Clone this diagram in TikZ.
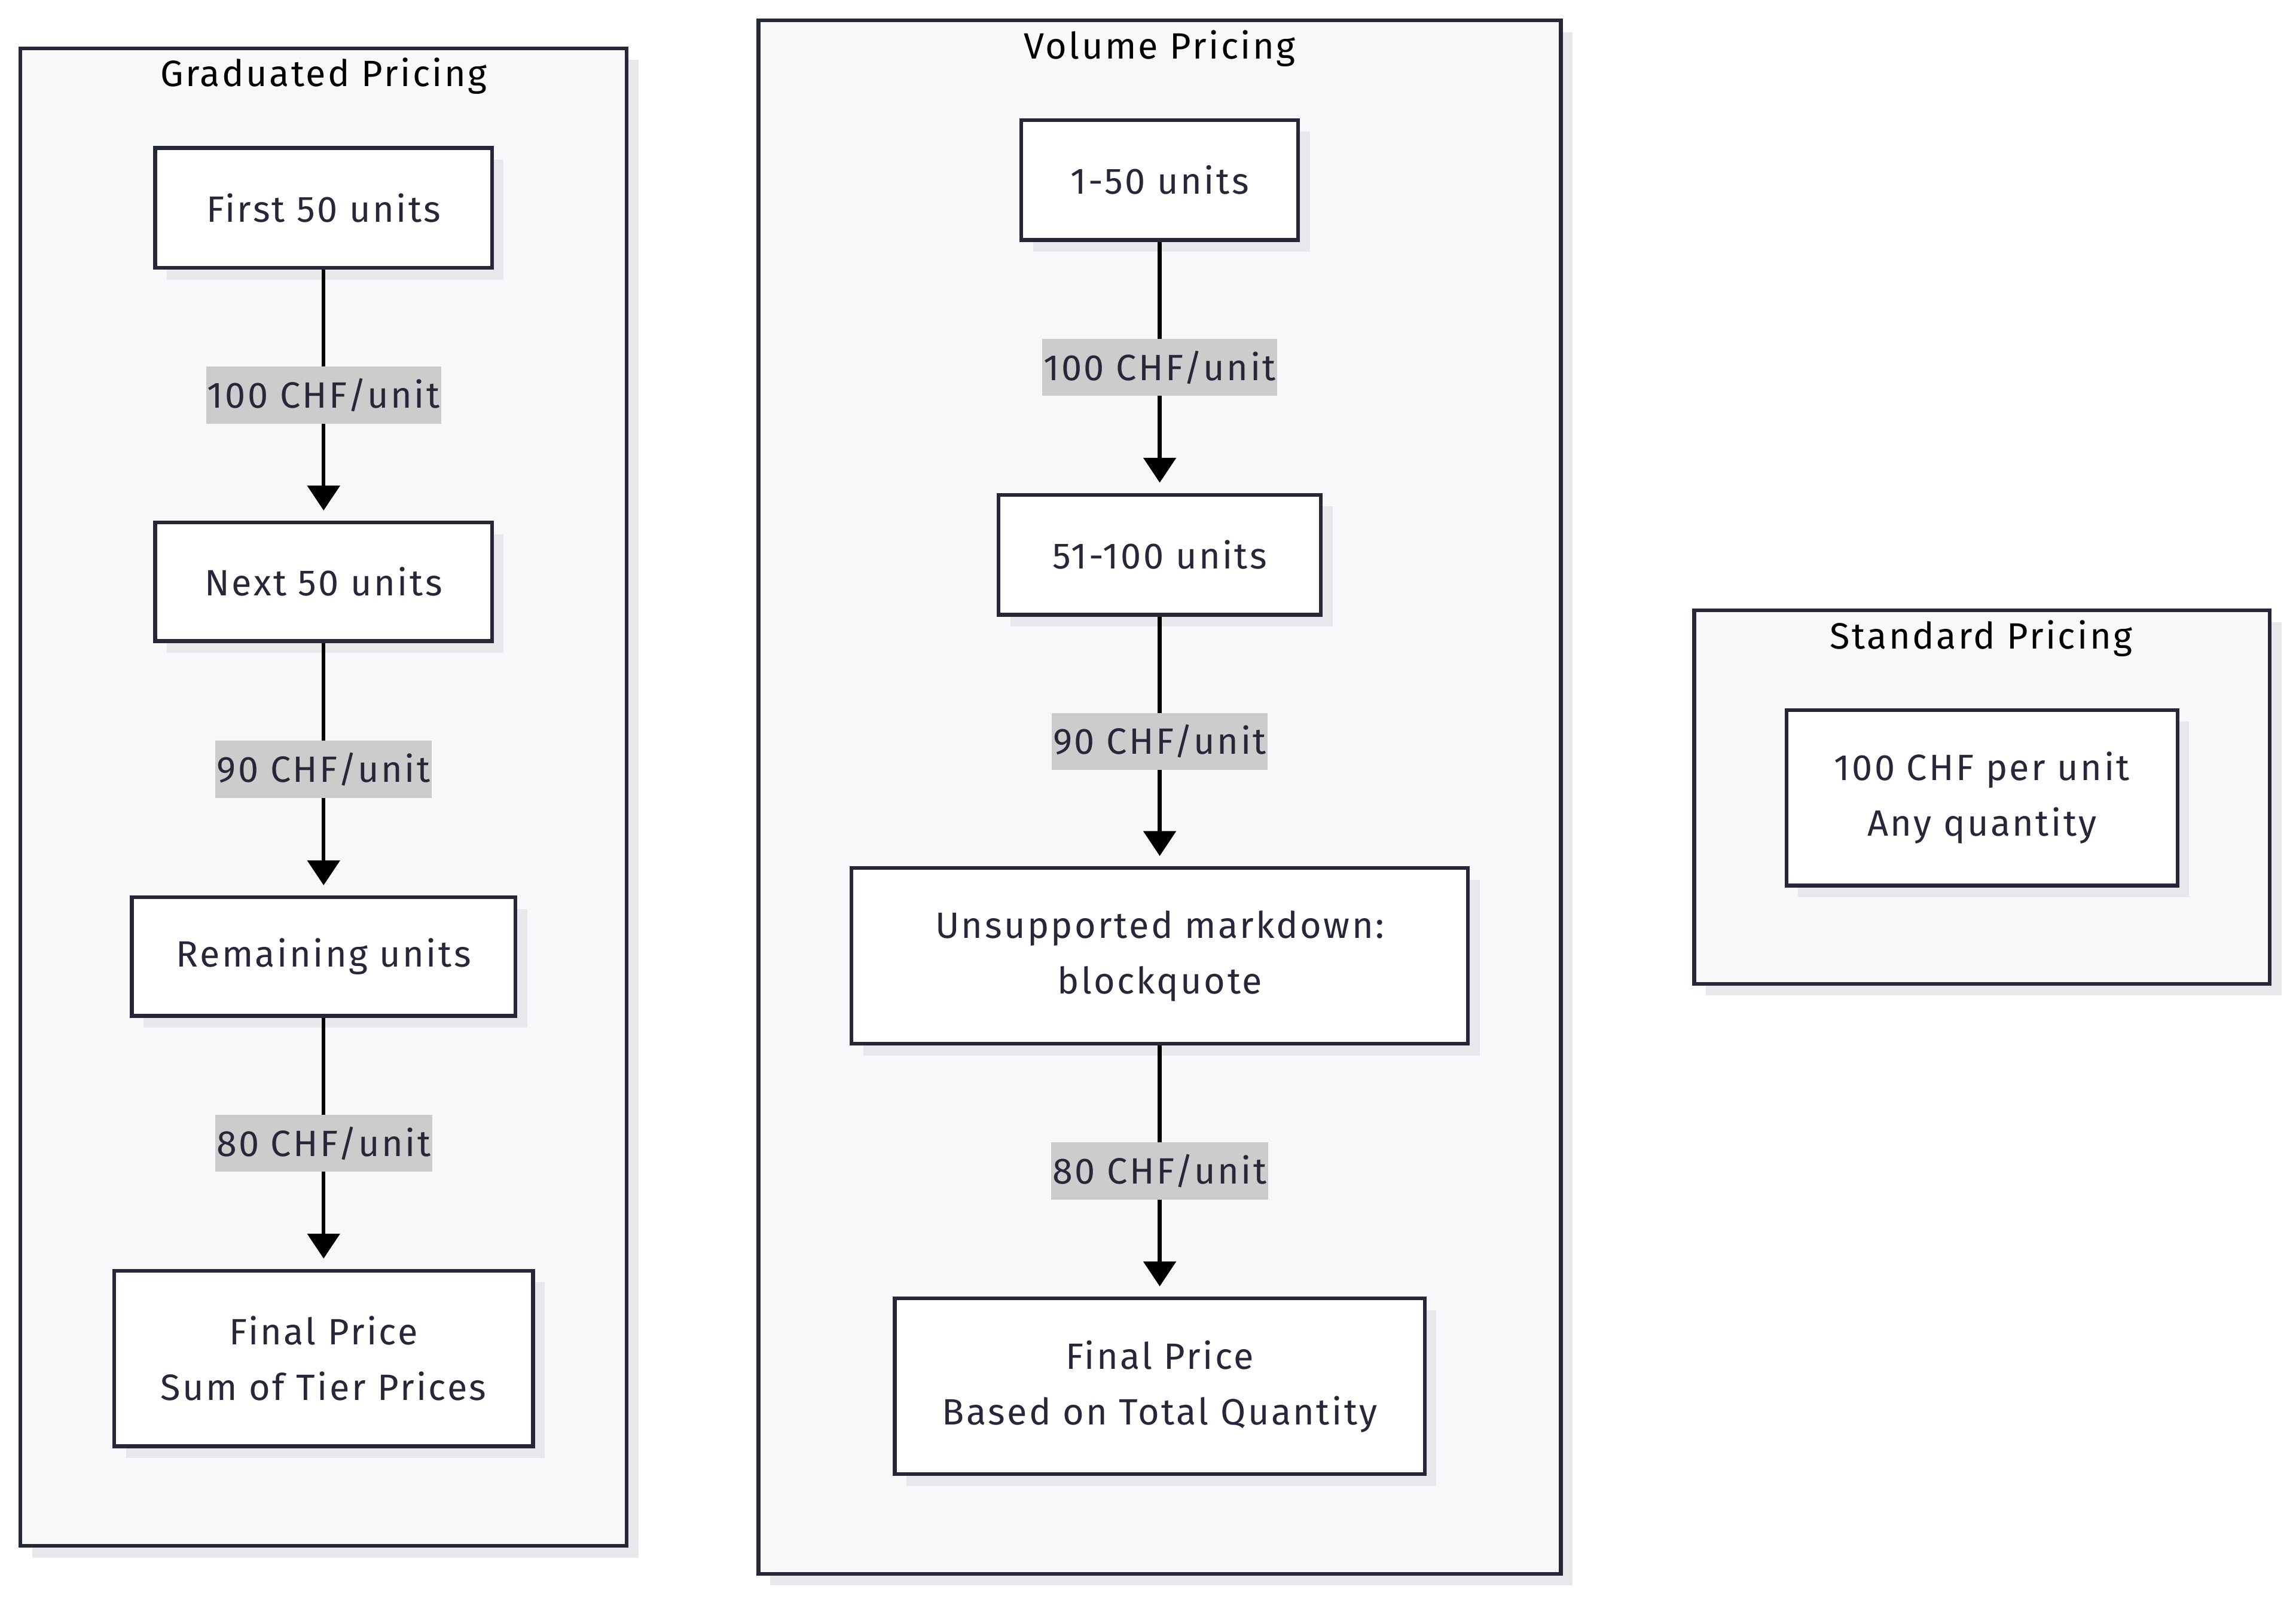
\documentclass[tikz,border=0pt]{standalone}
\usepackage{fontspec}
\setmainfont[LetterSpace=5.5]{Fira Sans}
\usetikzlibrary{arrows.meta,shadows}
\definecolor{navy}{RGB}{39,39,58}
\definecolor{clfill}{RGB}{248,248,250}
\definecolor{shd}{RGB}{232,232,236}
\definecolor{lblbg}{RGB}{204,204,204}
\tikzset{
  shd/.style={drop shadow={shadow xshift=8pt,shadow yshift=-8pt,fill=shd,opacity=1}},
  cluster/.style={draw=navy,line width=2.6pt,fill=clfill,shd,inner sep=0pt,rectangle},
  ctitle/.style={font=\fontsize{25}{28}\selectfont,text=black,inner sep=0pt},
  box/.style={draw=navy,line width=2.6pt,fill=white,shd,inner sep=0pt,align=center,
    text=navy,font=\fontsize{25}{38}\selectfont},
  edge/.style={line width=2.6pt,-{Triangle[length=17pt,width=22pt]},shorten >=7pt},
  lbl/.style={fill=lblbg,text=navy,inner xsep=1pt,inner ysep=0pt,minimum height=39pt,
    font=\fontsize{25}{28}\selectfont}
}
\begin{document}
\begin{tikzpicture}[x=1pt,y=-1pt]
\useasboundingbox[fill=white] (0,0) rectangle (1568,1092);
% clusters
\node[cluster,minimum width=414pt,minimum height=1023pt] (cg) at (221,544.5) {};
\node[ctitle] (cgt) at (221,52) {Graduated Pricing};
\node[cluster,minimum width=548pt,minimum height=1061pt] (cv) at (792,544.5) {};
\node[ctitle] (cvt) at (792,33) {Volume Pricing};
\node[cluster,minimum width=393pt,minimum height=255pt] (cs) at (1353.5,544.5) {};
\node[ctitle] (cst) at (1353,436) {Standard Pricing};
% graduated
\node[box,minimum width=230pt,minimum height=82pt] (g1) at (221,142) {First 50 units};
\node[box,minimum width=230pt,minimum height=81pt] (g2) at (221,397.5) {Next 50 units};
\node[box,minimum width=262pt,minimum height=81pt] (g3) at (221,653.5) {Remaining units};
\node[box,minimum width=286pt,minimum height=120pt] (g4) at (221,928) {Final Price\\Sum of Tier Prices};
\draw[edge] (g1) -- node[lbl]{100 CHF/unit} (g2);
\draw[edge] (g2) -- node[lbl]{90 CHF/unit} (g3);
\draw[edge] (g3) -- node[lbl]{80 CHF/unit} (g4);
% volume
\node[box,minimum width=189pt,minimum height=82pt] (v1) at (792,123) {1-50 units};
\node[box,minimum width=220pt,minimum height=82pt] (v2) at (792,379) {51-100 units};
\node[box,minimum width=421pt,minimum height=120pt] (v3) at (792,653) {Unsupported markdown:\\blockquote};
\node[box,minimum width=362pt,minimum height=120pt] (v4) at (792,947) {Final Price\\Based on Total Quantity};
\draw[edge] (v1) -- node[lbl]{100 CHF/unit} (v2);
\draw[edge] (v2) -- node[lbl]{90 CHF/unit} (v3);
\draw[edge] (v3) -- node[lbl]{80 CHF/unit} (v4);
% standard
\node[box,minimum width=267pt,minimum height=120pt] (s1) at (1353.5,545) {100 CHF per unit\\Any quantity};
\end{tikzpicture}
\end{document}
